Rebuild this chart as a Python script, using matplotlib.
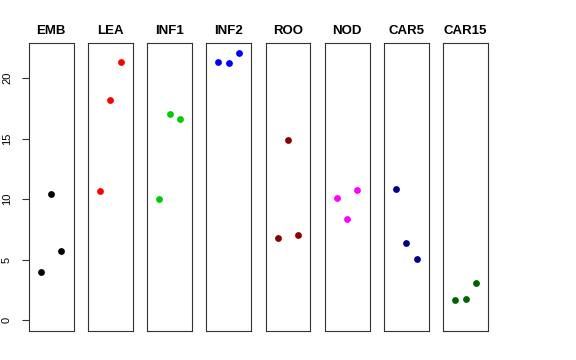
import matplotlib
matplotlib.use("Agg")
import matplotlib.pyplot as plt

plt.rcParams['font.family'] = ['Liberation Sans', 'DejaVu Sans']

# --- data ---
tissues = ["EMB", "LEA", "INF1", "INF2", "ROO", "NOD", "CAR5", "CAR15"]
colors = ["black", "red", "#00CD00", "blue", "#8B0000", "magenta", "#000080", "#006400"]
reps = [1, 2, 3]
values = {
    "EMB":   [4.0, 10.4, 5.75],
    "LEA":   [10.7, 18.2, 21.3],
    "INF1":  [10.05, 17.0, 16.6],
    "INF2":  [21.35, 21.25, 22.05],
    "ROO":   [6.8, 14.9, 7.05],
    "NOD":   [10.1, 8.4, 10.75],
    "CAR5":  [10.8, 6.4, 5.05],
    "CAR15": [1.7, 1.8, 3.1],
}
yticks = [0, 5, 10, 15, 20]

W, H = 576, 360
fig = plt.figure(figsize=(W / 100, H / 100), dpi=100)

left0, stride, width = 28.7, 59.2, 44.8
top, bottom = 43, 331

for i, (name, col) in enumerate(zip(tissues, colors)):
    x0 = left0 + stride * i
    ax = fig.add_axes([x0 / W, (H - bottom) / H, width / W, (bottom - top) / H])
    ax.scatter(reps, values[name], s=24, color=col, zorder=3, linewidths=0)
    ax.set_xlim(-0.16, 4.16)
    ax.set_ylim(-0.88, 22.88)
    ax.set_xticks([])
    ax.set_title(name, fontsize=9.5, fontweight='bold', pad=6.5)
    for sp in ax.spines.values():
        sp.set_linewidth(0.8)
        sp.set_color('#333333')
    if i == 0:
        ax.set_yticks(yticks)
        ax.set_yticklabels([str(t) for t in yticks], rotation=90, va='center', fontsize=8)
        ax.tick_params(axis='y', length=5, width=0.8, pad=7, color='#333333')
    else:
        ax.set_yticks([])

fig.savefig("out.png", dpi=100)
